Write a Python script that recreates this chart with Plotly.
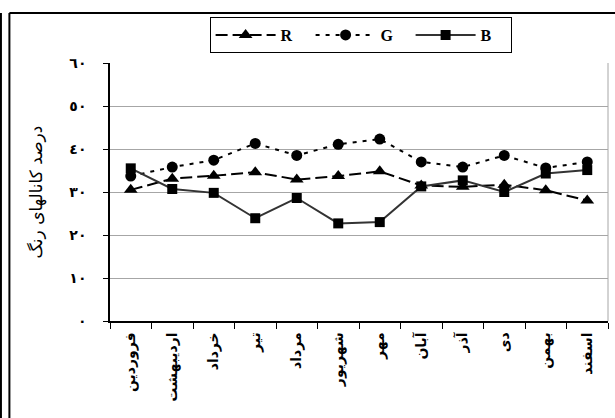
import plotly.graph_objects as go

months = ["فروردین", "اردیبهشت", "خرداد", "تیر", "مرداد", "شهریور",
          "مهر", "آبان", "آذر", "دی", "بهمن", "اسفند"]
r_vals = [30.5, 33.1, 33.8, 34.6, 32.9, 33.7, 34.8, 31.5, 31.2, 31.7, 30.4, 28.0]
g_vals = [33.7, 35.8, 37.4, 41.3, 38.5, 41.1, 42.3, 37.0, 35.8, 38.5, 35.6, 37.0]
b_vals = [35.5, 30.7, 29.8, 23.9, 28.6, 22.7, 23.0, 31.3, 32.7, 30.0, 34.3, 35.1]
y_ticks = [0, 10, 20, 30, 40, 50, 60]
y_labels = ["٠", "١٠", "٢٠", "٣٠", "٤٠", "٥٠", "٦٠"]

fig = go.Figure()

fig.add_trace(go.Scatter(x=months, y=r_vals, name="R", mode="lines+markers",
                         line=dict(color="black", width=2, dash="12px,5px"),
                         marker=dict(symbol="triangle-up", size=12, color="black")))
fig.add_trace(go.Scatter(x=months, y=g_vals, name="G", mode="lines+markers",
                         line=dict(color="black", width=2, dash="4px,6px"),
                         marker=dict(symbol="circle", size=11, color="black")))
fig.add_trace(go.Scatter(x=months, y=b_vals, name="B", mode="lines+markers",
                         line=dict(color="#333333", width=2),
                         marker=dict(symbol="square", size=10, color="black")))

fig.update_layout(
    width=615, height=418,
    margin=dict(l=110, r=7, t=63, b=97),
    paper_bgcolor="white", plot_bgcolor="white",
    font=dict(family="DejaVu Sans", color="black"),
    legend=dict(orientation="h", x=0.2, y=1.178, xanchor="left", yanchor="top",
                bordercolor="black", borderwidth=1, bgcolor="white",
                itemwidth=60, entrywidth=25, entrywidthmode="pixels",
                font=dict(family="Liberation Serif", size=16, color="black", weight="bold")),
    showlegend=True,
)

fig.update_xaxes(
    type="category", range=[-0.5, len(months) - 0.5],
    tickson="boundaries", ticks="outside", ticklen=6,
    tickcolor="black", showline=True, linecolor="black", linewidth=1.5,
    tickangle=-90, tickfont=dict(size=14, family="DejaVu Sans", weight="bold"),
    showgrid=False, mirror=False, automargin=False, ticklabelstandoff=4,
)
fig.update_yaxes(
    range=[0, 60], tickvals=y_ticks, ticktext=y_labels,
    ticks="outside", ticklen=5, tickcolor="black",
    showline=True, linecolor="black", linewidth=1.5,
    showgrid=True, gridcolor="#a6a6a6", gridwidth=1,
    tickfont=dict(size=14, family="DejaVu Sans", weight="bold"),
    ticklabelstandoff=14,
    title=dict(text="درصد كانالهاى رنگ", font=dict(size=17, family="DejaVu Sans"), standoff=22),
    zeroline=False, automargin=False,
)

# grey right edge of plot area
fig.add_shape(type="line", xref="paper", yref="paper", x0=1, x1=1, y0=0, y1=1,
              line=dict(color="#a6a6a6", width=1))
# outer frame
fig.add_shape(type="line", xref="paper", yref="paper", x0=-0.202, x1=1.02, y0=1.194, y1=1.194,
              line=dict(color="black", width=2))
fig.add_shape(type="line", xref="paper", yref="paper", x0=-0.202, x1=-0.202, y0=1.194, y1=-0.4,
              line=dict(color="black", width=2))
fig.add_shape(type="line", xref="paper", yref="paper", x0=-0.219, x1=-0.219, y0=1.194, y1=-0.4,
              line=dict(color="black", width=2))

# page body has a default 8px margin; drop it so the figure sits at the window corner
fig.write_html("out.html", config={"displayModeBar": False},
               post_script="document.body.style.margin='0';")
